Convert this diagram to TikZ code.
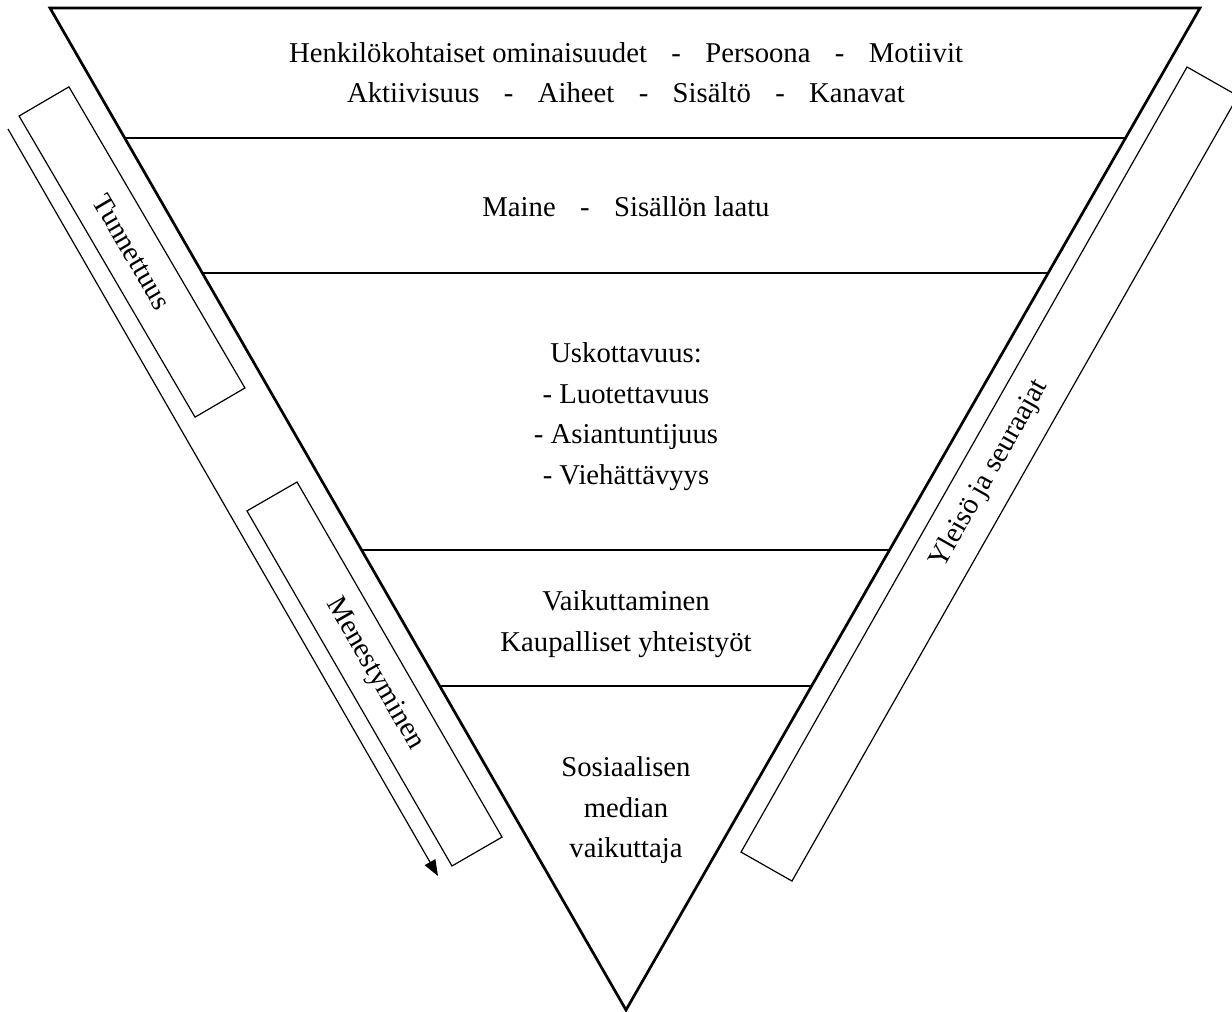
\documentclass[tikz,border=0pt]{standalone}
\usepackage{fontspec}
\setmainfont{Liberation Serif}
\usetikzlibrary{calc,arrows.meta}
\tikzstyle{funnel}=[draw, line width=1.35pt, line join=miter]
\tikzstyle{layer}=[draw, line width=1.1pt]
\tikzstyle{level}=[align=center, inner sep=0pt]
\tikzstyle{sidebox}=[draw, line width=0.6pt, inner sep=0pt, text centered]
\tikzstyle{line}=[draw, line width=0.6pt, -{Triangle[length=8pt,width=6pt]}]
\newcommand{\sepdash}{\hspace{0.85em}-\hspace{0.85em}}

\begin{document}
\begin{tikzpicture}[x=0.5pt,y=-0.5pt,font=\fontsize{14.35pt}{20.25pt}\selectfont]
\useasboundingbox (0,0) rectangle (1232,1012);

  % Draw the funnel
\coordinate (tl) at (50,8);
\coordinate (tr) at (1200,8);
\coordinate (apex) at (626,1010);
\path [funnel] (tl) -- (tr) -- (apex) -- cycle;
\foreach \t in {0.1297,0.2645,0.5409,0.6766}
  \path [layer] ($(tl)!\t!(apex)$) -- ($(tr)!\t!(apex)$);

  % Draw the levels
\node (l1) [level] at (626,72.7) {Henkilökohtaiset ominaisuudet\sepdash Persoona\sepdash Motiivit\\
  Aktiivisuus\sepdash Aiheet\sepdash Sisältö\sepdash Kanavat};
\node (l2) [level] at (626,206.7) {Maine\sepdash Sisällön laatu};
\node (l3) [level] at (626,416.6) {Uskottavuus:\\- Luotettavuus\\- Asiantuntijuus\\- Viehättävyys};
\node (l4) [level] at (626,624) {Vaikuttaminen\\Kaupalliset yhteistyöt};
\node (l5) [level] at (626,810.3) {Sosiaalisen\\median\\vaikuttaja};

  % Draw the side boxes
\node (tun) [sidebox, minimum width=174.4pt, minimum height=28.9pt, rotate=-59.7] at (132,252) {Tunnettuus};
\node (men) [sidebox, minimum width=205pt, minimum height=28.9pt, rotate=-60] at (374.5,674) {Menestyminen};
\node (yle) [sidebox, minimum width=451.5pt, minimum height=29.3pt, rotate=60.4] at (989.5,474) {Yleisö ja seuraajat};

  % Draw the arrow
\coordinate (a1) at (8,129);
\coordinate (a2) at (438,876);
\path [line] (a1) -- (a2);
\end{tikzpicture}
\end{document}
